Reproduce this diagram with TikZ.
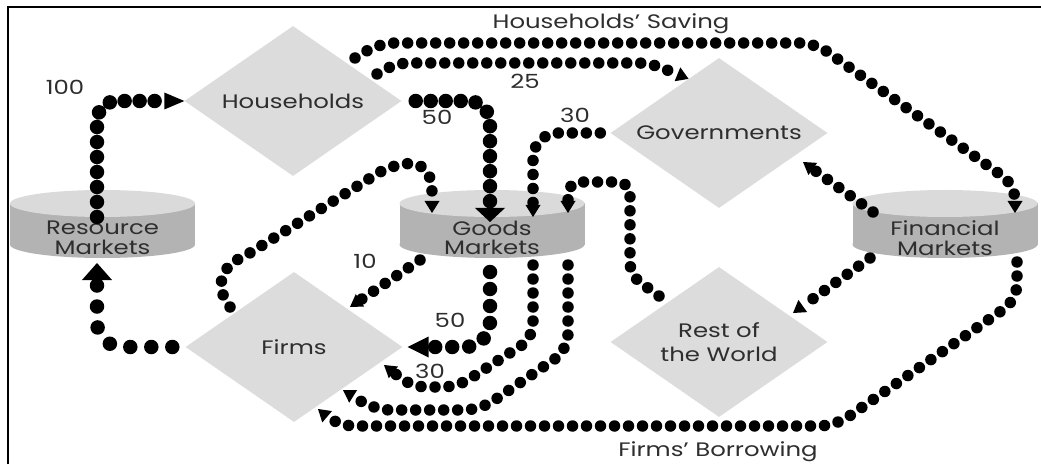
\documentclass[tikz,border=0pt]{standalone}
\usepackage{fontspec}
\setmainfont{Poppins}[FakeStretch=1.25]
\usetikzlibrary{shapes.geometric,arrows.meta,calc}
\definecolor{diagray}{HTML}{DCDCDC}
\definecolor{cyltop}{HTML}{DADADA}
\definecolor{cylside}{HTML}{B3B3B3}
\definecolor{txt}{HTML}{2E2E2E}
\newcommand\cylbody[2]{%
  \fill[cylside] (#1-92.5,#2) rectangle (#1+92.5,#2+41);
  \fill[cylside] (#1,#2+41) ellipse[x radius=92.5, y radius=13.5];
  \fill[cyltop] (#1,#2) ellipse[x radius=92.5, y radius=13.5];}
\tikzset{
  dia/.style={shape=diamond, fill=diagray, minimum width=217pt, minimum height=150pt,
    aspect=1.45, inner sep=0pt, text=txt, font=\fontsize{19.5}{24}\selectfont, align=center},
  cyltext/.style={text=txt, font=\fontsize{19.5}{19.5}\selectfont, align=center, inner sep=0pt},
  lbl/.style={text=txt, font=\fontsize{19.5}{19.5}\selectfont, inner sep=0pt},
  sd/.style={draw=black, line cap=round, line width=11.5pt, dash pattern=on 0pt off 14pt},
  bd/.style={draw=black, line cap=round, line width=14.5pt, dash pattern=on 0pt off #1},
  stip/.style={-{Triangle[length=12pt,width=15pt,line width=0pt]}},
}
\begin{document}
\begin{tikzpicture}[x=1pt,y=-1pt]
\useasboundingbox (0,0) rectangle (1041,465);
\draw[line width=2pt] (8,464) -- (8,7) -- (1041,7);
% cylinders
\cylbody{102.5}{203.5}
\cylbody{492}{203.5}
\cylbody{945}{203.5}
\node[cyltext] (res) at (102.5,238) {Resource\\Markets};
\node[cyltext] (goods) at (492,238) {Goods\\Markets};
\node[cyltext] (fin) at (945,238) {Financial\\Markets};
% diamonds
\node[dia] (hh) at (293,101) {Households};
\node[dia] (gov) at (719,133) {Governments};
\node[dia] (firms) at (294,347) {Firms};
\node[dia] (row) at (719,342) {Rest of\\the World};
% labels
\node[lbl] (l100) at (65,87) {100};
\node[lbl] (l50a) at (437,117) {50};
\node[lbl] (l25) at (525,81) {25};
\node[lbl] (l30a) at (575,115) {30};
\node[lbl] (l10) at (365,261) {10};
\node[lbl] (l50b) at (450,320) {50};
\node[lbl] (l30b) at (430,371) {30};
\node[lbl] (lsave) at (611,24) {Households’ Saving};
\node[lbl] (lborrow) at (718,452) {Firms’ Borrowing};
% connectors
% Resource Markets -> Households (100)
\draw[bd=15pt, rounded corners=20pt, -{Triangle[length=20pt,width=17pt,line width=0pt]}]
  ($(res)+(-5.5,-21)$) |- (hh.west);
% Households -> Goods Markets (50)
\draw[bd=15pt, rounded corners=22pt, -{Triangle[length=14pt,width=30pt,line width=0pt]}]
  ($(hh.east)+(14,0)$) -| ($(goods)+(-2,-16)$);
% Households -> Governments (25)
\draw[sd, stip, rounded corners=12pt]
  ($(hh)+(84,-27)$) -- (397,63) -- (650,63) -- ($(gov.west)!0.72!(gov.north)$);
% Households -> Financial Markets (saving)
\draw[sd, stip, rounded corners=15pt]
  ($(hh)+(62,-43)$) -- (380,43) -- (815,43) -- (1015,185) -- ($(fin)+(70,-25)$);
% Governments -> Goods Markets (30)
\draw[sd, stip, rounded corners=25pt]
  ($(gov.west)+(-10,0)$) -| ($(goods)+(41,-21)$);
% Financial Markets -> Governments
\draw[sd, stip] ($(fin)+(-72,-26)$) -- ($(gov)+(84,29)$);
% Financial Markets -> Rest of the World
\draw[sd, stip] ($(fin)+(-75,20)$) -- ($(row)+(74,-29)$);
% Rest of the World -> Goods Markets
\draw[sd, stip, rounded corners=12pt]
  ($(row)+(-60,-46)$) -- (630,275) -- (630,182) -- (568,182) -- ($(goods)+(76,-25)$);
% Firms -> Goods Markets (investment)
\draw[sd, stip]
  ($(firms)+(-64,-40)$) .. controls (213,285) and (222,265) .. (245,256) -- (380,172)
  .. controls (415,155) and (432,165) .. (432,192) -- ($(goods)+(-60,-25)$);
% Goods Markets -> Firms (10)
\draw[sd, stip] ($(goods)+(-72,22)$) -- ($(firms)+(56,-40)$);
% Goods Markets -> Firms (50)
\draw[bd=17pt, rounded corners=25pt, -{Triangle[length=21pt,width=21pt,line width=0pt]}]
  ($(goods)+(-2,34)$) |- ($(firms.east)+(5,0)$);
% Goods Markets -> Firms (30)
\draw[sd, stip, rounded corners=14pt]
  ($(goods)+(41,27)$) -- (533,338) -- (457,387) -- (412,387) -- ($(firms)+(90,18)$);
% Goods Markets -> Firms (third)
\draw[sd, stip, rounded corners=16pt]
  ($(goods)+(76,27)$) -- (568,350) -- (480,410) -- (375,410) -- ($(firms)+(49,43)$);
% Financial Markets -> Firms (borrowing)
\draw[sd, stip, rounded corners=16pt]
  ($(fin)+(72,24)$) -- (1017,300) -- (835,426) -- (338,426) -- ($(firms)+(24,62)$);
% Firms -> Resource Markets
\draw[bd=21pt, rounded corners=25pt, -{Triangle[length=17pt,width=30pt,line width=0pt]}]
  ($(firms.west)+(-13,0)$) -| ($(res)+(-5.5,25)$);
\end{tikzpicture}
\end{document}
